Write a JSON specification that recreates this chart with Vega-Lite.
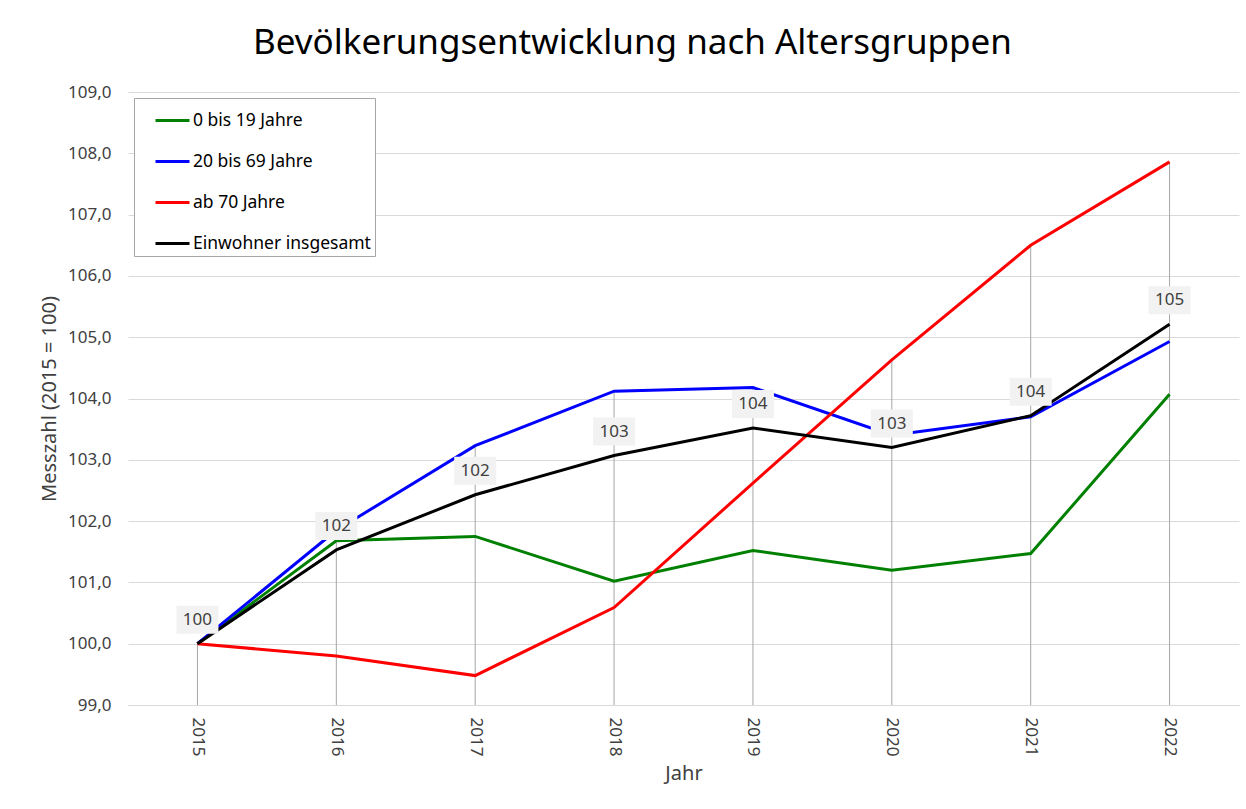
{
  "$schema": "https://vega.github.io/schema/vega-lite/v6.json",
  "width": 1111,
  "height": 613,
  "autosize": {"type": "none"},
  "padding": {"left": 128, "top": 92, "right": 7, "bottom": 104},
  "background": "white",
  "title": {
    "text": "Bevölkerungsentwicklung nach Altersgruppen",
    "font": "Noto Sans",
    "fontSize": 35,
    "fontWeight": "normal",
    "color": "#000000",
    "anchor": "middle",
    "baseline": "alphabetic",
    "offset": -6,
    "dx": -51
  },
  "data": {
    "values": [
      {"Jahr": "2015", "Gruppe": "0 bis 19 Jahre", "Wert": 100.0},
      {"Jahr": "2016", "Gruppe": "0 bis 19 Jahre", "Wert": 101.68},
      {"Jahr": "2017", "Gruppe": "0 bis 19 Jahre", "Wert": 101.75},
      {"Jahr": "2018", "Gruppe": "0 bis 19 Jahre", "Wert": 101.02},
      {"Jahr": "2019", "Gruppe": "0 bis 19 Jahre", "Wert": 101.52},
      {"Jahr": "2020", "Gruppe": "0 bis 19 Jahre", "Wert": 101.2},
      {"Jahr": "2021", "Gruppe": "0 bis 19 Jahre", "Wert": 101.47},
      {"Jahr": "2022", "Gruppe": "0 bis 19 Jahre", "Wert": 104.07},
      {"Jahr": "2015", "Gruppe": "20 bis 69 Jahre", "Wert": 100.0},
      {"Jahr": "2016", "Gruppe": "20 bis 69 Jahre", "Wert": 101.85},
      {"Jahr": "2017", "Gruppe": "20 bis 69 Jahre", "Wert": 103.23},
      {"Jahr": "2018", "Gruppe": "20 bis 69 Jahre", "Wert": 104.12},
      {"Jahr": "2019", "Gruppe": "20 bis 69 Jahre", "Wert": 104.18},
      {"Jahr": "2020", "Gruppe": "20 bis 69 Jahre", "Wert": 103.4},
      {"Jahr": "2021", "Gruppe": "20 bis 69 Jahre", "Wert": 103.7},
      {"Jahr": "2022", "Gruppe": "20 bis 69 Jahre", "Wert": 104.93},
      {"Jahr": "2015", "Gruppe": "ab 70 Jahre", "Wert": 100.0},
      {"Jahr": "2016", "Gruppe": "ab 70 Jahre", "Wert": 99.8},
      {"Jahr": "2017", "Gruppe": "ab 70 Jahre", "Wert": 99.48},
      {"Jahr": "2018", "Gruppe": "ab 70 Jahre", "Wert": 100.59},
      {"Jahr": "2019", "Gruppe": "ab 70 Jahre", "Wert": 102.62},
      {"Jahr": "2020", "Gruppe": "ab 70 Jahre", "Wert": 104.63},
      {"Jahr": "2021", "Gruppe": "ab 70 Jahre", "Wert": 106.5},
      {"Jahr": "2022", "Gruppe": "ab 70 Jahre", "Wert": 107.86},
      {"Jahr": "2015", "Gruppe": "Einwohner insgesamt", "Wert": 100.0},
      {"Jahr": "2016", "Gruppe": "Einwohner insgesamt", "Wert": 101.53},
      {"Jahr": "2017", "Gruppe": "Einwohner insgesamt", "Wert": 102.43},
      {"Jahr": "2018", "Gruppe": "Einwohner insgesamt", "Wert": 103.07},
      {"Jahr": "2019", "Gruppe": "Einwohner insgesamt", "Wert": 103.52},
      {"Jahr": "2020", "Gruppe": "Einwohner insgesamt", "Wert": 103.2},
      {"Jahr": "2021", "Gruppe": "Einwohner insgesamt", "Wert": 103.72},
      {"Jahr": "2022", "Gruppe": "Einwohner insgesamt", "Wert": 105.21}
    ]
  },
  "config": {
    "view": {"stroke": null},
    "font": "Noto Sans",
    "axis": {
      "labelFont": "Noto Sans",
      "labelColor": "#404040",
      "labelFontSize": 17,
      "titleFont": "Noto Sans",
      "titleFontSize": 20,
      "titleFontWeight": "normal",
      "titleColor": "#404040",
      "ticks": false
    },
    "axisX": {
      "labelAngle": 90,
      "labelPadding": 12,
      "domainColor": "#d9d9d9",
      "domainWidth": 1,
      "grid": false,
      "titlePadding": 8
    },
    "axisY": {
      "domain": false,
      "grid": true,
      "gridColor": "#d9d9d9",
      "gridWidth": 1,
      "labelPadding": 17,
      "titlePadding": 8,
      "labelOverlap": false,
      "labelExpr": "replace(format(datum.value, '.1f'), '.', ',')"
    }
  },
  "encoding": {
    "x": {
      "field": "Jahr",
      "type": "ordinal",
      "title": "Jahr",
      "scale": {"type": "point", "padding": 0.5}
    },
    "y": {
      "field": "Wert",
      "type": "quantitative",
      "title": "Messzahl (2015 = 100)",
      "scale": {"domain": [99, 109], "nice": false, "zero": false},
      "axis": {"values": [99, 100, 101, 102, 103, 104, 105, 106, 107, 108, 109]}
    }
  },
  "layer": [
    {
      "transform": [
        {"aggregate": [{"op": "max", "field": "Wert", "as": "Wert"}], "groupby": ["Jahr"]}
      ],
      "mark": {"type": "rule", "color": "#a6a6a6", "strokeWidth": 1},
      "encoding": {
        "y2": {"datum": 99}
      }
    },
    {
      "mark": {"type": "line", "strokeWidth": 3},
      "encoding": {
        "color": {
          "field": "Gruppe",
          "type": "nominal",
          "scale": {
            "domain": ["0 bis 19 Jahre", "20 bis 69 Jahre", "ab 70 Jahre", "Einwohner insgesamt"],
            "range": ["#008000", "#0000ff", "#ff0000", "#000000"]
          },
          "legend": {
            "title": null,
            "orient": "top-left",
            "offset": 6,
            "fillColor": "white",
            "strokeColor": "#a6a6a6",
            "padding": 4,
            "symbolType": "stroke",
            "symbolSize": 1156,
            "symbolStrokeWidth": 3,
            "symbolOffset": 16,
            "labelFont": "Noto Sans",
            "labelFontSize": 17.5,
            "labelColor": "#000000",
            "labelOffset": 2,
            "labelLimit": 400,
            "labelExpr": "datum.label + '\u2003\u2003\u2003'",
            "rowPadding": 14
          }
        }
      }
    },
    {
      "transform": [{"filter": "datum.Gruppe === 'Einwohner insgesamt'"}],
      "mark": {
        "type": "point",
        "shape": "M-1.5,-1H1.5V1H-1.5Z",
        "filled": true,
        "color": "#f2f2f2",
        "opacity": 1,
        "strokeWidth": 0,
        "size": 784,
        "yOffset": -24
      }
    },
    {
      "transform": [{"filter": "datum.Gruppe === 'Einwohner insgesamt'"}],
      "mark": {
        "type": "text",
        "font": "Noto Sans",
        "fontSize": 17,
        "color": "#404040",
        "baseline": "middle",
        "align": "center",
        "yOffset": -24
      },
      "encoding": {
        "text": {"field": "Wert", "type": "quantitative", "format": ".0f"}
      }
    }
  ]
}
